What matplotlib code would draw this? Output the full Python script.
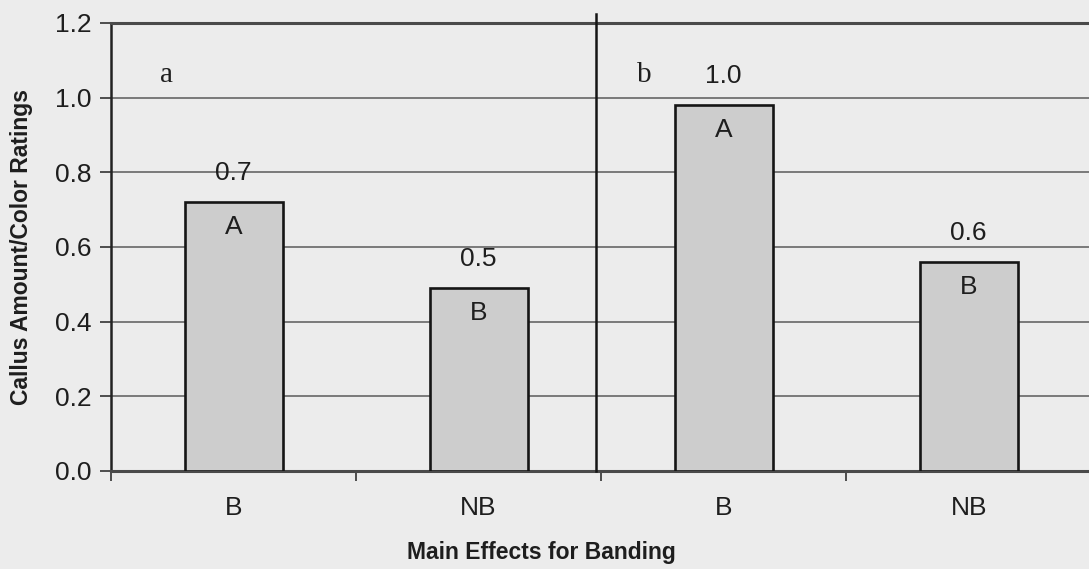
import matplotlib
matplotlib.use("Agg")
import matplotlib.pyplot as plt

# Main effects for banding: two panels (a, b), each with banded (B) and non-banded (NB)
categories = ["B", "NB", "B", "NB"]
ratings = [0.72, 0.49, 0.98, 0.56]
groups = ["A", "B", "A", "B"]
panels = ["a", "b"]
yticks = [0.0, 0.2, 0.4, 0.6, 0.8, 1.0, 1.2]

plt.rcParams["font.family"] = ["Liberation Sans", "DejaVu Sans"]

bg = "#ececec"
fig = plt.figure(figsize=(10.89, 5.69), dpi=100, facecolor=bg)
ax = fig.add_axes([111 / 1089, 1 - 471 / 569, 1 - 111 / 1089 + 0.002, (471 - 23) / 569])
ax.set_facecolor(bg)

x = list(range(len(categories)))
bars = ax.bar(x, ratings, width=0.4, color="#cdcdcd", edgecolor="#151515",
              linewidth=1.9, zorder=3)

ax.set_xlim(-0.5, 3.5)
ax.set_ylim(0, 1.2)
ax.set_yticks(yticks)
ax.set_yticklabels([f"{t:.1f}" for t in yticks], fontsize=19, color="#1e1e1e")
ax.yaxis.grid(True, color="#5a5a5a", linewidth=1.1, zorder=1)
ax.set_axisbelow(True)

# category labels centred under bars, tick marks at the category boundaries
ax.set_xticks([-0.5, 0.5, 1.5, 2.5, 3.5])
ax.set_xticklabels([])
ax.set_xticks(x, minor=True)
ax.set_xticklabels(categories, minor=True, fontsize=19, color="#1e1e1e")
ax.tick_params(axis="x", which="minor", length=0, pad=18)
ax.tick_params(axis="x", which="major", length=7, width=1.2, color="#333333")
ax.tick_params(axis="y", length=8, width=1.2, color="#333333", pad=6)

for side in ("top", "bottom"):
    ax.spines[side].set_color("#4a4a4a")
    ax.spines[side].set_linewidth(2.2)
ax.spines["left"].set_color("#222222")
ax.spines["left"].set_linewidth(1.8)
ax.spines["right"].set_visible(False)

# divider between the two panels
ax.plot([1.48, 1.48], [0, 1.225], color="#151515", linewidth=1.8,
        clip_on=False, zorder=4)

# value labels above and group letters inside each bar
for xi, v, g in zip(x, ratings, groups):
    ax.annotate(f"{v:.1f}", (xi, v), xytext=(0, 21), textcoords="offset points",
                ha="center", va="center", fontsize=19, color="#1e1e1e", zorder=5)
    ax.annotate(g, (xi, v), xytext=(0, -18), textcoords="offset points",
                ha="center", va="center", fontsize=19, color="#1e1e1e", zorder=5)

# panel letters
for px, label in zip([-0.275, 1.676], panels):
    ax.text(px, 1.06, label, ha="center", va="center", fontsize=21,
            family=["Liberation Serif", "DejaVu Serif"], color="#1e1e1e")

fig.text(22 / 1089, 1 - 247 / 569, "Callus Amount/Color Ratings", rotation=90,
         ha="center", va="center", fontsize=16.5, fontweight="bold", color="#1e1e1e")
fig.text(541 / 1089, 1 - 553 / 569, "Main Effects for Banding",
         ha="center", va="center", fontsize=16.5, fontweight="bold", color="#1e1e1e")

fig.savefig("out.png", dpi=100, facecolor=bg)
